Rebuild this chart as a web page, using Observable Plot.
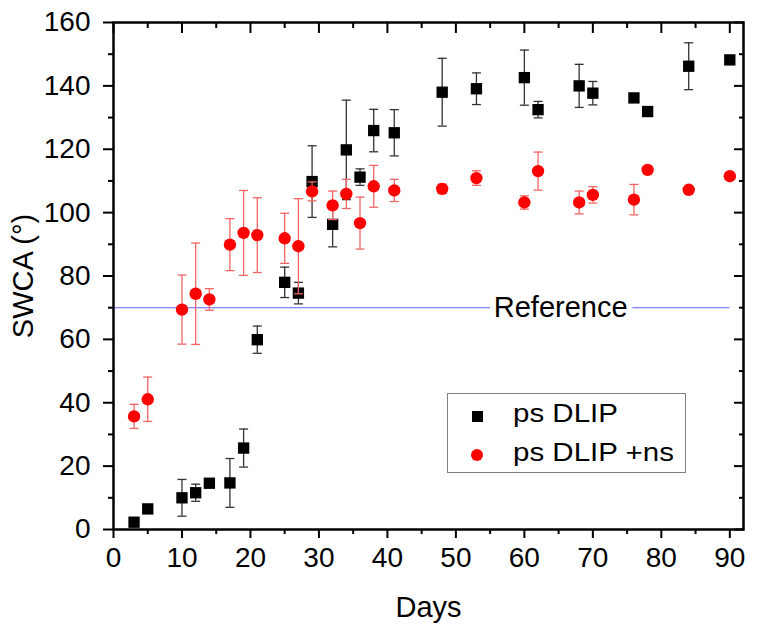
<!DOCTYPE html>
<html><head><meta charset="utf-8">
<script src="https://cdn.jsdelivr.net/npm/d3@7"></script>
<script src="https://cdn.jsdelivr.net/npm/@observablehq/plot@0.6"></script>
<style>
body{margin:0;background:#fff;}
#wrap{position:relative;width:757px;height:631px;font-family:"Liberation Sans",Arial,sans-serif;}
#legend{position:absolute;left:447px;top:393px;width:239px;height:80px;border:1px solid #808080;box-sizing:border-box;background:#fff;}
.lmark{position:absolute;}
.ltext{position:absolute;left:65px;font-size:25px;line-height:25px;white-space:nowrap;transform:scaleX(1.18);transform-origin:left center;color:#000;}
</style></head><body><div id="wrap"></div><script>
const days = [3,5,10,12,14,17,19,21,25,27,29,32,34,36,38,41,48,53,60,62,68,70,76,78,84,90];
const psDLIP = [2.3,6.5,10.0,11.6,14.6,14.7,25.7,59.9,78.0,74.6,109.8,96.3,119.8,111.2,125.9,125.2,138.0,139.1,142.6,132.5,140.0,137.7,136.2,131.9,146.2,148.2];
const psDLIPErr = [0,0,5.8,2.7,0.8,7.7,6.0,4.3,4.8,3.4,11.3,7.1,15.7,2.6,6.7,7.3,10.7,5.0,8.7,2.6,6.8,3.7,1.2,0,7.4,0];
const psDLIPns = [35.7,41.1,69.4,74.4,72.6,89.9,93.6,92.9,91.9,89.4,106.7,102.3,105.9,96.7,108.3,107.0,107.5,110.9,103.2,113.1,103.2,105.6,104.1,113.5,107.2,111.5];
const psDLIPnsErr = [3.8,7.0,10.9,16.0,3.4,8.2,13.4,11.8,7.9,15.0,3.0,4.5,4.6,8.2,6.6,3.5,1.5,2.3,2.1,6.0,3.6,2.6,4.8,0,0,0];
const seriesNames = ["ps DLIP","ps DLIP +ns"];
const xTicks = [0,10,20,30,40,50,60,70,80,90];
const xMinorTicks = [5,15,25,35,45,55,65,75,85];
const yTicks = [0,20,40,60,80,100,120,140,160];
const yMinorTicks = [10,30,50,70,90,110,130,150];
const referenceValue = 70;
const referenceLabel = "Reference";
const referenceLabelDay = 65.3;
const xLabel = "Days";
const yLabel = "SWCA (°)";

const black = days.map((d,i)=>({day:d, value:psDLIP[i], err:psDLIPErr[i]}));
const red = days.map((d,i)=>({day:d, value:psDLIPns[i], err:psDLIPnsErr[i]}));
const capSymbol = {draw(ctx, size){ const w = Math.sqrt(size/Math.PI); ctx.moveTo(-w,0); ctx.lineTo(w,0); }};
const noLabel = () => "";

function errMarks(rows, color){
  const r = rows.filter(d=>d.err>0);
  return [
    Plot.ruleX(r, {x:"day", y1:d=>d.value-d.err, y2:d=>d.value+d.err, stroke:color, strokeWidth:1.3}),
    Plot.dot(r, {x:"day", y:d=>d.value+d.err, symbol:capSymbol, r:4.5, stroke:color, strokeWidth:1.3, fill:"none"}),
    Plot.dot(r, {x:"day", y:d=>d.value-d.err, symbol:capSymbol, r:4.5, stroke:color, strokeWidth:1.3, fill:"none"})
  ];
}

const chart = Plot.plot({
  width:757, height:631,
  marginLeft:113, marginRight:14, marginTop:22, marginBottom:102,
  style:{fontFamily:"Liberation Sans, Arial, sans-serif", fontSize:"28px", color:"#000", background:"#fff"},
  x:{domain:[0,92]},
  y:{domain:[0,160]},
  marks:[
    Plot.ruleY([referenceValue], {x1:xTicks[0], x2:d3.max(days), stroke:"#5e5eff", strokeWidth:1.1}),
    Plot.text([referenceLabel], {x:referenceLabelDay, y:referenceValue, text:d=>d, fontSize:29, fill:"#000", stroke:"#fff", strokeWidth:12, paintOrder:"stroke"}),
    ...errMarks(black, "#333"),
    Plot.dot(black, {x:"day", y:"value", symbol:"square", r:6.4, fill:"#000", stroke:"none"}),
    ...errMarks(red, "#f06666"),
    Plot.dot(red, {x:"day", y:"value", symbol:"circle", r:6.2, fill:"#ff0000", stroke:"none"}),
    Plot.axisX(xTicks, {anchor:"bottom", tickSize:9, tickPadding:9, strokeWidth:2, label:null}),
    Plot.axisX(xMinorTicks, {anchor:"bottom", tickSize:5, tickFormat:noLabel, strokeWidth:2, label:null}),
    Plot.axisX(xTicks, {anchor:"top", tickSize:-10, tickFormat:noLabel, strokeWidth:2, label:null}),
    Plot.axisX(xMinorTicks, {anchor:"top", tickSize:-5, tickFormat:noLabel, strokeWidth:2, label:null}),
    Plot.axisY(yTicks, {anchor:"left", tickSize:10, tickPadding:13, strokeWidth:2, label:null}),
    Plot.axisY(yMinorTicks, {anchor:"left", tickSize:5, tickFormat:noLabel, strokeWidth:2, label:null}),
    Plot.axisY(yTicks, {anchor:"right", tickSize:-10, tickFormat:noLabel, strokeWidth:2, label:null}),
    Plot.axisY(yMinorTicks, {anchor:"right", tickSize:-5, tickFormat:noLabel, strokeWidth:2, label:null}),
    Plot.frame({stroke:"#000", strokeWidth:2.5}),
    Plot.text([xLabel], {frameAnchor:"bottom", lineAnchor:"middle", textAnchor:"middle", dy:78, text:d=>d, fontSize:29, fill:"#000"}),
    Plot.text([yLabel], {frameAnchor:"left", rotate:-90, textAnchor:"middle", lineAnchor:"middle", dx:-89.7, text:d=>d, fontSize:29, fill:"#000"})
  ]
});
const wrap = document.getElementById("wrap");
wrap.appendChild(chart);

// legend
const legend = document.createElement("div");
legend.id = "legend";
const markers = [
  {name:seriesNames[0], css:"width:11px;height:11px;background:#000;left:24px;top:17px;"},
  {name:seriesNames[1], css:"width:12px;height:12px;border-radius:50%;background:#ff0000;left:23px;top:55px;"}
];
markers.forEach((m,i)=>{
  const mk = document.createElement("div");
  mk.className = "lmark"; mk.style.cssText = m.css;
  legend.appendChild(mk);
  const t = document.createElement("div");
  t.className = "ltext"; t.textContent = m.name;
  t.style.top = (i===0 ? 7 : 46) + "px";
  legend.appendChild(t);
});
wrap.appendChild(legend);
</script></body></html>
